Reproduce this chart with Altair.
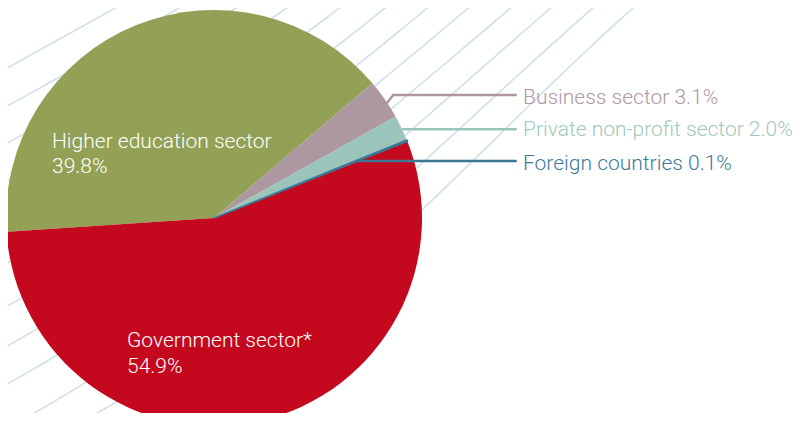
import altair as alt
import pandas as pd
import numpy as np

# ---------------- data ----------------
sectors = ["Higher education sector", "Business sector", "Private non-profit sector",
           "Foreign countries", "Government sector*"]
shares = [39.8, 3.1, 2.0, 0.1, 54.9]
pct_labels = ["39.8%", "3.1%", "2.0%", "0.1%", "54.9%"]

# ---------------- styles ----------------
slice_colors = ["#92A155", "#AD97A0", "#9BC5BB", "#3A7896", "#C4081E"]
label_colors = ["#FFFFFF", "#AE98A1", "#9FC8BE", "#3D7A98", "#FFFFFF"]
hatch_color = "#CCDFE7"
FONT = "Roboto"
FS = 21

# ---------------- layout (screen pixel coords) ----------------
W, H = 800, 421
M = 8
cx, cy, R = 214, 218, 208
start_deg = 266.2
start = float(np.deg2rad(start_deg))

xs = alt.Scale(domain=[0, W], range=[-M, W - M], zero=False, nice=False)
ys = alt.Scale(domain=[0, H], range=[-M, H - M], zero=False, nice=False)

# background hatch: lines (top-edge end -> left/bottom-edge end)
hatch_top_x = [130, 192, 248, 298, 350, 395, 437, 478, 520, 560, 602, 642]
hatch_end = [(0, 72), (0, 110), (0, 147), (0, 185), (0, 230), (0, 267), (0, 310),
             (0, 350), (0, 388), (20, 421), (83, 421), (150, 421)]

rows = []
for i, (xt, (xe, ye)) in enumerate(zip(hatch_top_x, hatch_end)):
    st = np.interp(xt, [130, 250, 400, 642], [0.55, 0.66, 0.82, 0.88])
    se = 0.55
    p0 = np.array([xt, 0.0])
    p1 = np.array([xe, ye], dtype=float)
    L = np.linalg.norm(p1 - p0)
    t0 = np.array([-1.0, st]); t0 = t0 / np.linalg.norm(t0) * L
    t1 = np.array([-1.0, se]); t1 = t1 / np.linalg.norm(t1) * L
    for k, t in enumerate(np.linspace(0, 1, 40)):
        h00 = 2 * t**3 - 3 * t**2 + 1
        h10 = t**3 - 2 * t**2 + t
        h01 = -2 * t**3 + 3 * t**2
        h11 = t**3 - t**2
        p = h00 * p0 + h10 * t0 + h01 * p1 + h11 * t1
        rows.append({"line": i, "k": k, "x": float(p[0]), "y": float(p[1])})
hatch_df = pd.DataFrame(rows)

hatch = alt.Chart(hatch_df).mark_line(color=hatch_color, strokeWidth=1.5).encode(
    x=alt.X("x:Q", scale=xs, axis=None),
    y=alt.Y("y:Q", scale=ys, axis=None),
    detail="line:N",
    order="k:Q",
)

pie_df = pd.DataFrame({"sector": sectors, "share": shares, "ord": list(range(len(sectors)))})
pie = alt.Chart(pie_df).mark_arc(radius=R).encode(
    x=alt.value(cx - M),
    y=alt.value(cy - M),
    theta=alt.Theta("share:Q", stack=True,
                    scale=alt.Scale(range=[start, start + 2 * np.pi])),
    order=alt.Order("ord:Q"),
    color=alt.Color("sector:N", scale=alt.Scale(domain=sectors, range=slice_colors), legend=None),
)

# thin outline so the 0.1% sliver stays visible
sliver = alt.Chart(pie_df).mark_arc(radius=R, strokeWidth=1.6, fillOpacity=0).encode(
    x=alt.value(cx - M),
    y=alt.value(cy - M),
    theta=alt.Theta("share:Q", stack=True,
                    scale=alt.Scale(range=[start, start + 2 * np.pi])),
    order=alt.Order("ord:Q"),
    stroke=alt.condition(alt.datum.sector == "Foreign countries",
                         alt.value(slice_colors[3]), alt.value("transparent")),
)

# leader lines
leader_pts = {
    "Business sector": [(386.7, 103.3), (393.3, 95.0), (516.7, 95.0)],
    "Private non-profit sector": [(401.7, 129.3), (516.7, 129.3)],
    "Foreign countries": [(355.0, 161.0), (516.7, 161.0)],
}
lrows = []
for s, pts in leader_pts.items():
    for k, (x, y) in enumerate(pts):
        lrows.append({"sector": s, "k": k, "x": x, "y": y,
                      "c": slice_colors[sectors.index(s)]})
leader_df = pd.DataFrame(lrows)
leaders = alt.Chart(leader_df).mark_line(strokeWidth=2.5, strokeCap="butt").encode(
    x=alt.X("x:Q", scale=xs, axis=None),
    y=alt.Y("y:Q", scale=ys, axis=None),
    detail="sector:N",
    order="k:Q",
    stroke=alt.Stroke("c:N", scale=None),
)

# text labels
text_pos = {
    "Higher education sector": [(52, 148), (52, 173)],
    "Government sector*": [(127, 347), (127, 373)],
    "Business sector": [(523, 104)],
    "Private non-profit sector": [(523, 136)],
    "Foreign countries": [(523, 170)],
}
trows = []
for s, pct, col in zip(sectors, pct_labels, label_colors):
    pos = text_pos[s]
    if len(pos) == 2:
        trows.append({"t": s, "x": pos[0][0], "y": pos[0][1], "c": col})
        trows.append({"t": pct, "x": pos[1][0], "y": pos[1][1], "c": col})
    else:
        trows.append({"t": f"{s} {pct}", "x": pos[0][0], "y": pos[0][1], "c": col})
text_df = pd.DataFrame(trows)
texts = alt.Chart(text_df).mark_text(align="left", baseline="alphabetic",
                                     font=FONT, fontSize=FS, fontWeight=300).encode(
    x=alt.X("x:Q", scale=xs, axis=None),
    y=alt.Y("y:Q", scale=ys, axis=None),
    text="t:N",
    fill=alt.Fill("c:N", scale=None),
)

# whole page is 800x421 with an 8px body margin on every side
chart = alt.layer(hatch, pie, sliver, leaders, texts).resolve_scale(
    color="independent", stroke="independent", fill="independent", theta="independent"
).properties(
    width=W - 2 * M, height=H - 2 * M,
    autosize=alt.AutoSizeParams(type="none"),
    padding=0,
    background="white",
).configure_view(stroke=None)

chart.save("out.html", embed_options={"renderer": "svg", "actions": False})
